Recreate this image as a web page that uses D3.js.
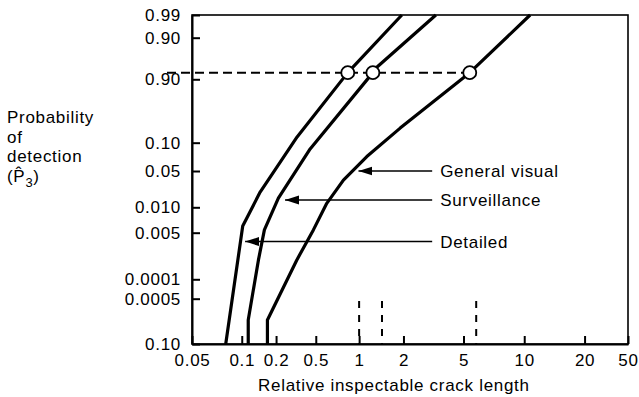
<!DOCTYPE html>
<html>
<head>
<meta charset="utf-8">
<script src="https://cdn.jsdelivr.net/npm/d3@7"></script>
<style>
  body { margin: 0; background: #fff; }
  svg { display: block; font-family: "Liberation Sans", Arial, Helvetica, sans-serif; }
</style>
</head>
<body>
<svg id="chart" width="639" height="397"></svg>
<script>
// ---- data ----
const xTicks = [0.05, 0.1, 0.2, 0.5, 1, 2, 5, 10, 20, 50];
// labels of the probability ruling, bottom to top (as printed)
const yTickLabels = ['0.10', '0.0005', '0.0001', '0.005', '0.010', '0.05', '0.10', '0.90', '0.90', '0.99'];

// curves: crack length vs. position on the probability ruling (tick index, bottom = 0)
const detailedX = [0.080, 0.102, 0.145, 0.325, 0.834, 1.95];
const detailedY = [0, 3.26, 4.42, 6.09, 7.16, 9];
const surveillanceX = [0.114, 0.114, 0.140, 0.158, 0.211, 0.439, 1.24, 1.33, 3.28];
const surveillanceY = [0, 0.53, 2.41, 3.11, 4.25, 5.78, 7.16, 7.30, 9];
const visualX = [0.168, 0.168, 0.322, 0.473, 0.596, 0.778, 1.128, 1.90, 5.37, 10.7];
const visualY = [0, 0.53, 2.41, 3.11, 4.11, 4.75, 5.51, 6.23, 7.16, 9];

// target detection level and where each curve crosses it
const targetLevel = 7.16;
const targetX = [0.834, 1.24, 5.37];
// dashed markers on the crack-length axis
const markerX = [1.0, 1.43, 5.78];
const markerTop = 0.95;

// annotation arrows
const labelNames = ['General visual', 'Surveillance', 'Detailed'];
const labelTipX = [0.99, 0.246, 0.107];
const labelTipY = [5.0, 4.2, 2.81];
const labelTailX = 3.1;

// ---- layout: the paper's uneven ruling, as fractions of the plot box ----
const xRuling = [0, 0.1141, 0.1928, 0.2839, 0.3833, 0.485, 0.6227, 0.762, 0.9004, 1];
const yRuling = [0, 0.1377, 0.1967, 0.3383, 0.4155, 0.5258, 0.6119, 0.8046, 0.931, 1];

const margin = { top: 15, right: 11, bottom: 53, left: 192 };
const width = 639 - margin.left - margin.right;
const height = 397 - margin.top - margin.bottom;
const fontSize = 17;
const spacing = '0.7px';

const svg = d3.select('#chart');
const g = svg.append('g').attr('transform', `translate(${margin.left},${margin.top})`);

const x = d3.scaleLog()
    .domain(xTicks)
    .range(xRuling.map(f => f * width));

const y = d3.scaleLinear()
    .domain(d3.range(yTickLabels.length))
    .range(yRuling.map(f => height * (1 - f)));

// arrow head
svg.append('defs').append('marker')
    .attr('id', 'head')
    .attr('markerUnits', 'userSpaceOnUse')
    .attr('markerWidth', 15)
    .attr('markerHeight', 10)
    .attr('refX', 14)
    .attr('refY', 4.5)
    .attr('orient', 'auto')
    .append('path')
    .attr('d', 'M0,0 L14,4.5 L0,9 Z')
    .attr('fill', '#000');

// frame
g.append('rect')
    .attr('width', width)
    .attr('height', height)
    .attr('fill', 'none')
    .attr('stroke', '#000')
    .attr('stroke-width', 1.6);

// axes
const xAxis = g.append('g')
    .attr('transform', `translate(0,${height})`)
    .call(d3.axisBottom(x)
        .tickValues(xTicks)
        .tickFormat(d => d)
        .tickSizeInner(-8)
        .tickSizeOuter(0)
        .tickPadding(10));

const yAxis = g.append('g')
    .call(d3.axisLeft(y)
        .tickValues(d3.range(yTickLabels.length))
        .tickFormat(i => yTickLabels[i])
        .tickSizeInner(-8)
        .tickSizeOuter(0)
        .tickPadding(11));

[xAxis, yAxis].forEach(a => {
    a.attr('font-size', fontSize).attr('font-family', null);
    a.select('.domain').attr('stroke-width', 2);
    a.selectAll('.tick line').attr('stroke-width', 2);
    a.selectAll('.tick text').attr('fill', '#000').style('letter-spacing', spacing);
});

// target level (dashed) and markers on the length axis
g.append('line')
    .attr('x1', -25)
    .attr('x2', x(targetX[targetX.length - 1]))
    .attr('y1', y(targetLevel))
    .attr('y2', y(targetLevel))
    .attr('stroke', '#000')
    .attr('stroke-width', 2)
    .attr('stroke-dasharray', '9,5');

g.selectAll('line.marker')
    .data(markerX)
    .enter()
    .append('line')
    .attr('class', 'marker')
    .attr('x1', d => x(d))
    .attr('x2', d => x(d))
    .attr('y1', y(markerTop))
    .attr('y2', height)
    .attr('stroke', '#000')
    .attr('stroke-width', 2)
    .attr('stroke-dasharray', '7,7');

// curves
const curves = [
    d3.zip(detailedX, detailedY),
    d3.zip(surveillanceX, surveillanceY),
    d3.zip(visualX, visualY)
];

const line = d3.line()
    .x(d => x(d[0]))
    .y(d => y(d[1]));

g.selectAll('path.curve')
    .data(curves)
    .enter()
    .append('path')
    .attr('class', 'curve')
    .attr('d', line)
    .attr('fill', 'none')
    .attr('stroke', '#000')
    .attr('stroke-width', 3.2)
    .attr('stroke-linejoin', 'round');

g.selectAll('circle.target')
    .data(targetX)
    .enter()
    .append('circle')
    .attr('class', 'target')
    .attr('cx', d => x(d))
    .attr('cy', y(targetLevel))
    .attr('r', 6.5)
    .attr('fill', '#fff')
    .attr('stroke', '#000')
    .attr('stroke-width', 1.8);

// annotations
const notes = labelNames.map((name, i) => ({ name, tx: labelTipX[i], ty: labelTipY[i] }));

g.selectAll('line.note')
    .data(notes)
    .enter()
    .append('line')
    .attr('class', 'note')
    .attr('x1', x(labelTailX))
    .attr('x2', d => x(d.tx))
    .attr('y1', d => y(d.ty))
    .attr('y2', d => y(d.ty))
    .attr('stroke', '#000')
    .attr('stroke-width', 1.5)
    .attr('marker-end', 'url(#head)');

g.selectAll('text.note')
    .data(notes)
    .enter()
    .append('text')
    .attr('class', 'note')
    .attr('x', x(labelTailX) + 8)
    .attr('y', d => y(d.ty))
    .attr('dy', '0.35em')
    .attr('font-size', fontSize)
    .style('letter-spacing', spacing)
    .text(d => d.name);

// axis titles
g.append('text')
    .attr('x', width * 0.463)
    .attr('y', height + 47)
    .attr('text-anchor', 'middle')
    .attr('font-size', fontSize)
    .style('letter-spacing', spacing)
    .text('Relative inspectable crack length');

const yTitle = svg.append('text')
    .attr('font-size', fontSize)
    .style('letter-spacing', spacing);

['Probability', 'of', 'detection'].forEach((t, i) => {
    yTitle.append('tspan').attr('x', 7).attr('y', 123 + i * 19.5).text(t);
});
const last = yTitle.append('tspan').attr('x', 7).attr('y', 181.5).text('(P\u0302');
yTitle.append('tspan').attr('font-size', 13).attr('dy', 5).text('3');
yTitle.append('tspan').attr('dy', -5).text(')');
</script>
</body>
</html>
